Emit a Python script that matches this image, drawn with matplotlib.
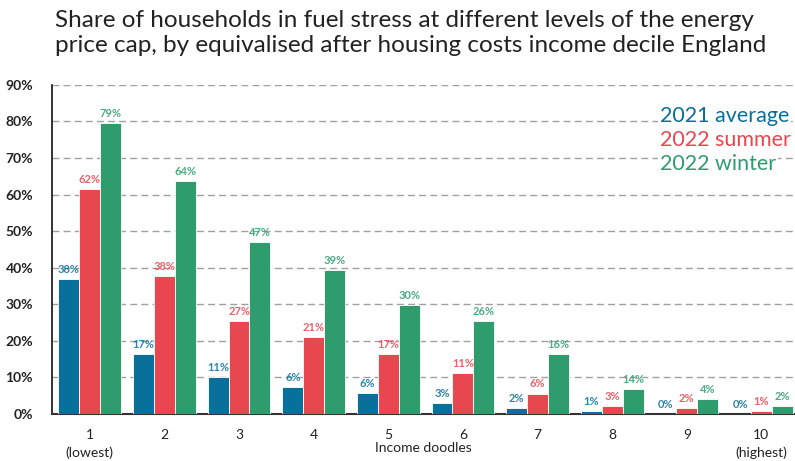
import numpy as np
import matplotlib
matplotlib.use('Agg')
import matplotlib.pyplot as plt

plt.rcParams['font.family'] = ['Lato', 'DejaVu Sans']

deciles = ['1\n(lowest)', '2', '3', '4', '5', '6', '7', '8', '9', '10\n(highest)']
series_names = ['2021 average', '2022 summer', '2022 winter']

# bar heights (%)
avg_2021 = [36.9, 16.4, 10.1, 7.4, 5.7, 3.0, 1.6, 0.8, 0.0, 0.0]
summer_2022 = [61.5, 37.7, 25.4, 21.0, 16.4, 11.2, 5.5, 2.2, 1.6, 0.8]
winter_2022 = [79.5, 63.7, 47.0, 39.3, 29.8, 25.4, 16.4, 6.8, 4.1, 2.2]

# labels as printed on the chart
avg_labels = ['38%', '17%', '11%', '6%', '6%', '3%', '2%', '1%', '0%', '0%']
summer_labels = ['62%', '38%', '27%', '21%', '17%', '11%', '6%', '3%', '2%', '1%']
winter_labels = ['79%', '64%', '47%', '39%', '30%', '26%', '16%', '14%', '4%', '2%']

colors = ['#08709a', '#e8474f', '#2e9c6c']

fig = plt.figure(figsize=(7.95, 4.61), dpi=100)
ax = fig.add_axes([0.066, 0.102, 0.934, 0.714])

x = np.arange(len(deciles))
w = 0.28
all_vals = [avg_2021, summer_2022, winter_2022]
all_labels = [avg_labels, summer_labels, winter_labels]
for i in range(3):
    xs = x + (i - 1) * w
    ax.bar(xs, all_vals[i], width=w, color=colors[i], edgecolor='white',
           linewidth=0.6, zorder=3)
    for xi, v, lab in zip(xs, all_vals[i], all_labels[i]):
        ax.text(xi, v + 1.2, lab, ha='center', va='bottom', fontsize=8,
                color=colors[i], fontweight='bold', alpha=0.85, zorder=4)

ax.set_ylim(0, 90)
ax.set_xlim(-0.5, 9.45)
ax.set_yticks(np.arange(0, 91, 10))
ax.set_yticklabels([f'{t}%' for t in range(0, 91, 10)], fontsize=10,
                   color='#222222', fontweight='bold')
ax.set_xticks(x)
ax.set_xticklabels(deciles, fontsize=10, color='#222222', linespacing=1.5)
ax.tick_params(axis='both', length=0)
ax.tick_params(axis='x', pad=11)
ax.tick_params(axis='y', pad=14)

ax.yaxis.grid(True, linestyle=(0, (5, 3)), color='#a0a0a0', linewidth=1.0, zorder=0)
for s in ['top', 'right']:
    ax.spines[s].set_visible(False)
ax.spines['left'].set_color('#111111')
ax.spines['left'].set_linewidth(1.2)
ax.spines['bottom'].set_color('#333333')
ax.spines['bottom'].set_linewidth(1.5)

ax.set_xlabel('Income doodles', fontsize=10, color='#222222', labelpad=-12)

for i, name in enumerate(series_names):
    fig.text(0.83, 0.748 - i * 0.052, name, fontsize=15.5, color=colors[i],
             ha='left', va='center',
             bbox=dict(facecolor='white', edgecolor='none', pad=1.5))

fig.text(0.069, 0.978, 'Share of households in fuel stress at different levels of the energy\n'
         'price cap, by equivalised after housing costs income decile England',
         fontsize=17.5, color='#222222', ha='left', va='top', linespacing=1.2)

fig.savefig('out.png', dpi=100)
